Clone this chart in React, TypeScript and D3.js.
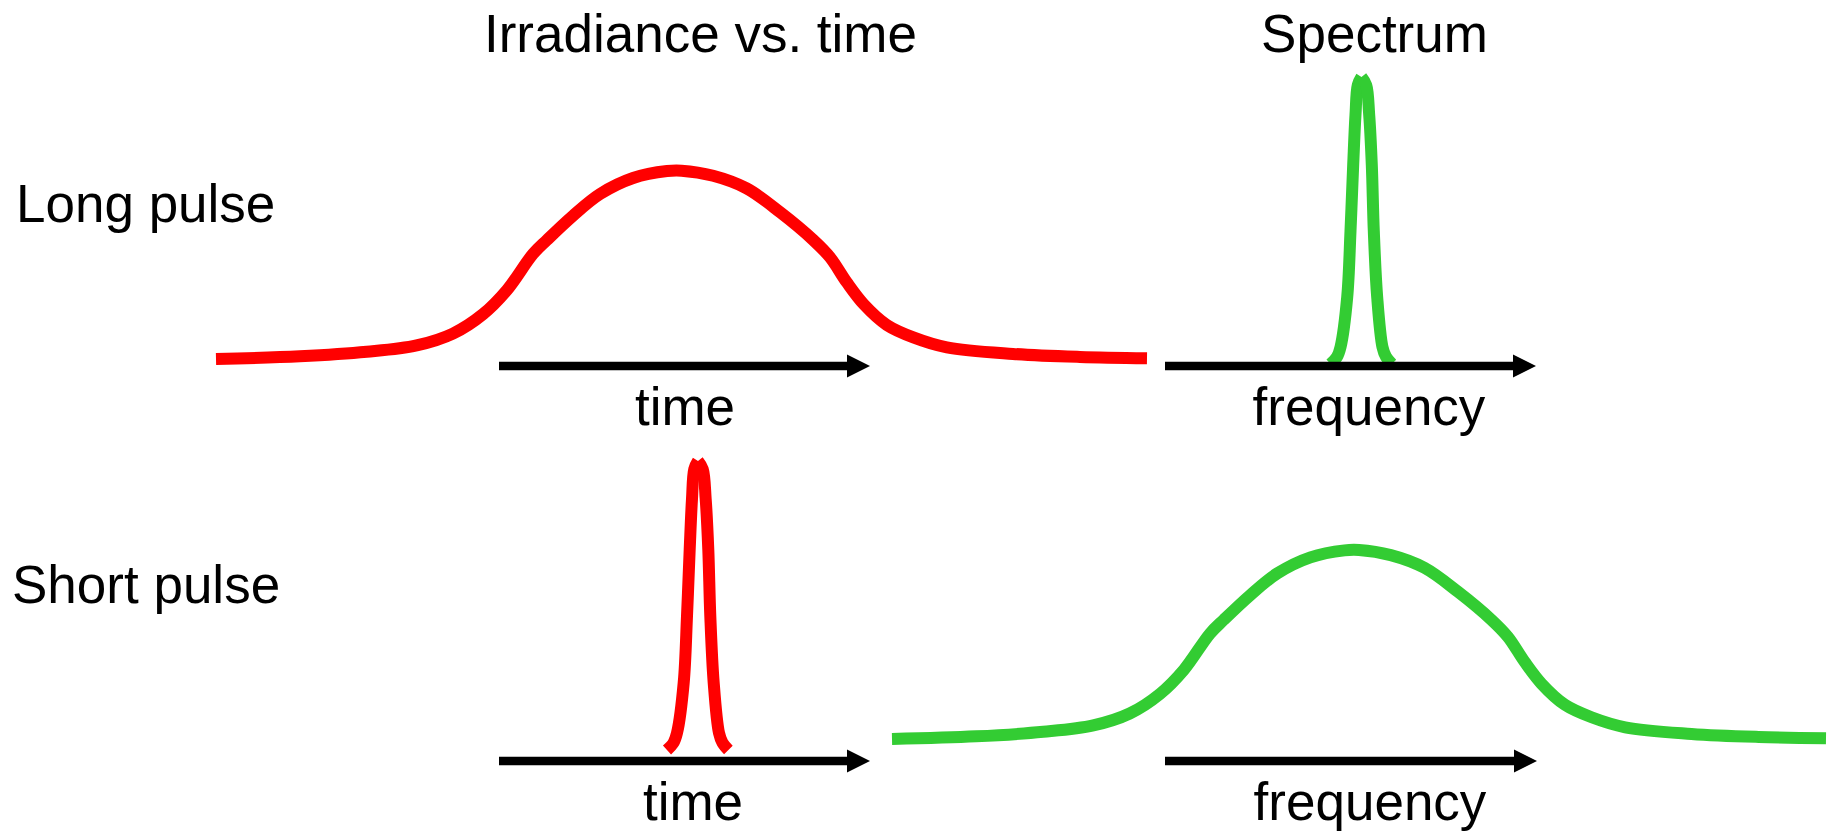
import React from "react";
import * as d3 from "d3";

const W = 1828;
const H = 832;

// Broad pulse profile: normalized position (-1..1) and normalized height (0..1)
const broadLeftX = [-1.0, -0.82, -0.676, -0.569, -0.491, -0.426, -0.375, -0.319, -0.289, -0.233, -0.175, -0.104, -0.031, 0];
const broadLeftY = [0, 0.014, 0.038, 0.072, 0.135, 0.239, 0.366, 0.558, 0.632, 0.761, 0.876, 0.961, 0.998, 1];
const broadRightX = [0, 0.068, 0.14, 0.212, 0.283, 0.319, 0.355, 0.391, 0.441, 0.498, 0.57, 0.712, 0.856, 1.0];
const broadRightY = [1, 0.973, 0.906, 0.779, 0.632, 0.54, 0.407, 0.292, 0.181, 0.115, 0.062, 0.027, 0.011, 0.004];

// Narrow pulse profile
const narrowLeftX = [-1.0, -0.79, -0.677, -0.461, -0.355, -0.268, -0.194, -0.119, 0];
const narrowLeftY = [0, 0.025, 0.059, 0.233, 0.463, 0.694, 0.868, 0.972, 1];
const narrowRightX = [0, 0.152, 0.248, 0.332, 0.397, 0.506, 0.677, 0.79, 0.98];
const narrowRightY = [1, 0.972, 0.868, 0.694, 0.463, 0.233, 0.059, 0.025, 0];

const columnTitles = ["Irradiance vs. time", "Spectrum"];
const rowLabels = ["Long pulse", "Short pulse"];
const axisLabels = ["time", "frequency"];

const RED = "#ff0000";
const GREEN = "#33cc33";
const FONT = "'Liberation Sans', Arial, sans-serif";

type Pt = [number, number];
const zip = (xs: number[], ys: number[]): Pt[] => xs.map((x, i) => [x, ys[i]]);

function Pulse({ kind, xRange, yRange, color }: { kind: "broad" | "narrow"; xRange: [number, number]; yRange: [number, number]; color: string }) {
  const x = d3.scaleLinear().domain([-1, 1]).range(xRange);
  const y = d3.scaleLinear().domain([0, 1]).range(yRange);
  const line = d3
    .line<Pt>()
    .x((d) => x(d[0]))
    .y((d) => y(d[1]))
    .curve(d3.curveCatmullRom.alpha(0.5));
  const parts =
    kind === "broad"
      ? [zip(broadLeftX, broadLeftY).concat(zip(broadRightX, broadRightY).slice(1))]
      : [zip(narrowLeftX, narrowLeftY), zip(narrowRightX, narrowRightY)];
  return (
    <g>
      {parts.map((h, i) => (
        <path key={i} d={line(h) || ""} fill="none" stroke={color} strokeWidth={12} strokeLinecap="butt" strokeLinejoin="round" />
      ))}
    </g>
  );
}

function Arrow({ x0, x1, yPos }: { x0: number; x1: number; yPos: number }) {
  const s = d3.scaleLinear().domain([0, 1]).range([x0, x1]);
  const head = 23;
  const hw = 11.5;
  const tip = s(1);
  return (
    <g>
      <line x1={s(0)} x2={tip - head + 1} y1={yPos} y2={yPos} stroke="#000" strokeWidth={8.3} />
      <polygon points={`${tip},${yPos} ${tip - head},${yPos - hw} ${tip - head},${yPos + hw}`} fill="#000" />
    </g>
  );
}

export default function App() {
  const textStyle = { fontFamily: FONT, fontSize: 53, fill: "#000" } as const;
  return (
    <svg width={W} height={H} style={{ position: "absolute", left: 0, top: 0, background: "#fff" }}>
      <rect x={0} y={0} width={W} height={H} fill="#fff" />
      {/* curves */}
      <Pulse kind="broad" xRange={[216, 1147]} yRange={[359, 170.7]} color={RED} />
      <Pulse kind="narrow" xRange={[1330.5, 1392.5]} yRange={[364, 77]} color={GREEN} />
      <Pulse kind="narrow" xRange={[667, 729]} yRange={[750, 461]} color={RED} />
      <Pulse kind="broad" xRange={[892, 1826]} yRange={[739, 550]} color={GREEN} />
      {/* arrows */}
      <Arrow x0={499} x1={870} yPos={366} />
      <Arrow x0={1165} x1={1536} yPos={366} />
      <Arrow x0={499} x1={870} yPos={761} />
      <Arrow x0={1165} x1={1537} yPos={761} />
      {/* titles */}
      <text x={700.5} y={52} textAnchor="middle" {...textStyle}>{columnTitles[0]}</text>
      <text x={1374.5} y={52} textAnchor="middle" {...textStyle}>{columnTitles[1]}</text>
      <text x={16} y={222} {...textStyle}>{rowLabels[0]}</text>
      <text x={12} y={603} {...textStyle}>{rowLabels[1]}</text>
      <text x={685} y={425} textAnchor="middle" {...textStyle}>{axisLabels[0]}</text>
      <text x={1369} y={425} textAnchor="middle" {...textStyle}>{axisLabels[1]}</text>
      <text x={693} y={820} textAnchor="middle" {...textStyle}>{axisLabels[0]}</text>
      <text x={1370} y={820} textAnchor="middle" {...textStyle}>{axisLabels[1]}</text>
    </svg>
  );
}
